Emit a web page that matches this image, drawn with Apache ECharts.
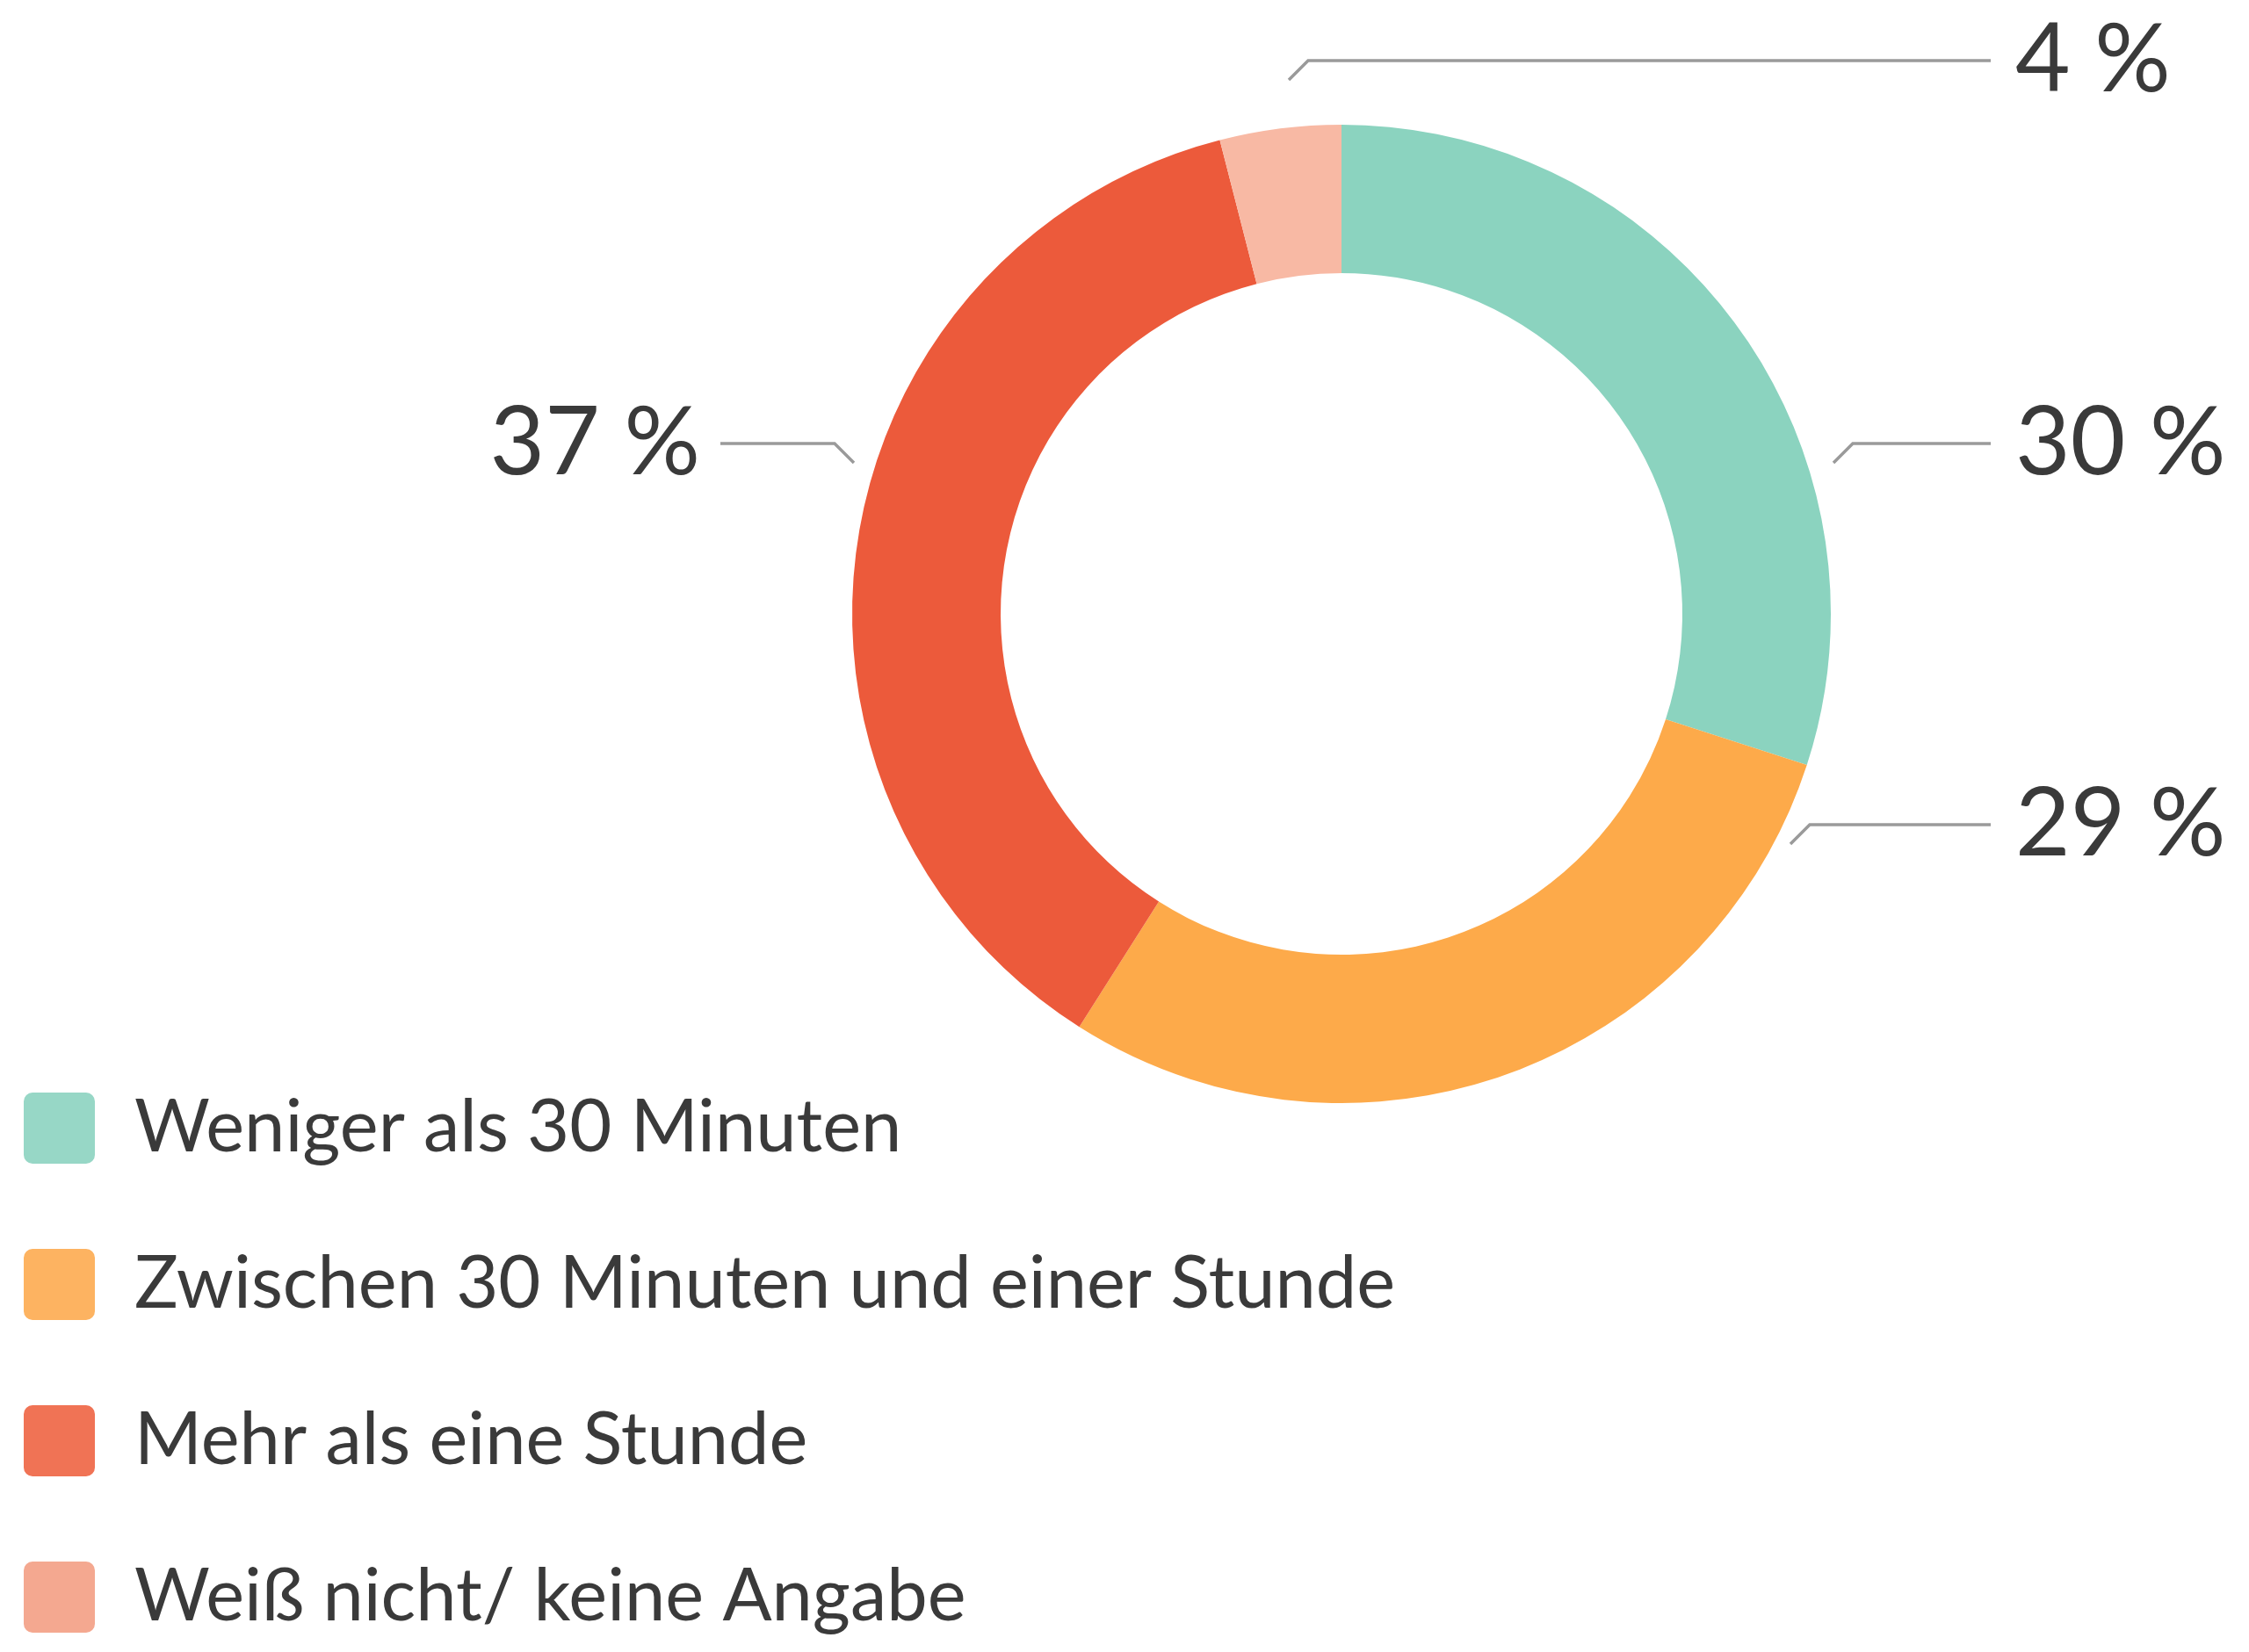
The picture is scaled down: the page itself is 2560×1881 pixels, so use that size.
<!DOCTYPE html>
<html>
<head>
<meta charset="utf-8">
<script src="https://cdn.jsdelivr.net/npm/echarts@6/dist/echarts.min.js"></script>
<style>
  html, body { margin: 0; padding: 0; background: #fff; }
  #chart { width: 2560px; height: 1881px; }
</style>
</head>
<body>
<div id="chart"></div>
<script>
const categories = ['Weniger als 30 Minuten', 'Zwischen 30 Minuten und einer Stunde', 'Mehr als eine Stunde', 'Weiß nicht/ keine Angabe']
const values = [30, 29, 37, 4]
const sliceColors = ['#8bd3bf', '#fdaa4a', '#ec5a3b', '#f8b9a4']
const legendColors = ['#97d7c6', '#fdb361', '#f07355', '#f4a890']

// where each percent label sits (horizontal leader y, inner end of horizontal, side)
const labelSpots = [
  {y: 505, x0: 2109, side: 1},
  {y: 939, x0: 2060, side: 1},
  {y: 505, x0: 950, side: -1},
  {y: 69, x0: 1489, side: 1}
]
const rightColumn = {lineEnd: 2266, text: 2294}
const leftColumn = {lineEnd: 820, text: 797}

const textColor = '#3a3a3a'
const font = 'Lato'

const chart = echarts.init(document.getElementById('chart'))

const pieData = categories.map((name, i) => ({
  name,
  value: values[i],
  itemStyle: {color: sliceColors[i]}
}))

const option = {
  animation: false,
  legend: {
    orient: 'vertical',
    left: 22,
    top: 1238,
    height: 640,
    itemWidth: 81,
    itemHeight: 81,
    itemGap: 95,
    selectedMode: false,
    icon: 'path://M10,0H71A10,10 0 0 1 81,10V71A10,10 0 0 1 71,81H10A10,10 0 0 1 0,71V10A10,10 0 0 1 10,0Z',
    textStyle: {
      fontFamily: font,
      fontSize: 83,
      lineHeight: 81,
      height: 81,
      color: textColor,
      padding: [0, 0, 0, 40]
    },
    data: categories.map((name, i) => ({name, itemStyle: {color: legendColors[i]}}))
  },
  series: [{
    type: 'pie',
    center: [1527, 699],
    radius: [388, 557],
    startAngle: 90,
    clockwise: true,
    avoidLabelOverlap: false,
    silent: true,
    label: {
      formatter: '{c} %',
      fontFamily: font,
      fontSize: 108,
      color: textColor
    },
    labelLine: {
      show: true,
      lineStyle: {color: '#9a9a9a', width: 3.5}
    },
    labelLayout: function (params) {
      const s = labelSpots[params.dataIndex]
      const col = s.side > 0 ? rightColumn : leftColumn
      return {
        x: col.text,
        y: s.y,
        align: s.side > 0 ? 'left' : 'right',
        verticalAlign: 'middle',
        labelLinePoints: [[s.x0 - s.side * 22, s.y + 22], [s.x0, s.y], [col.lineEnd, s.y]]
      }
    },
    data: pieData
  }]
}

chart.setOption(option)
</script>
</body>
</html>
